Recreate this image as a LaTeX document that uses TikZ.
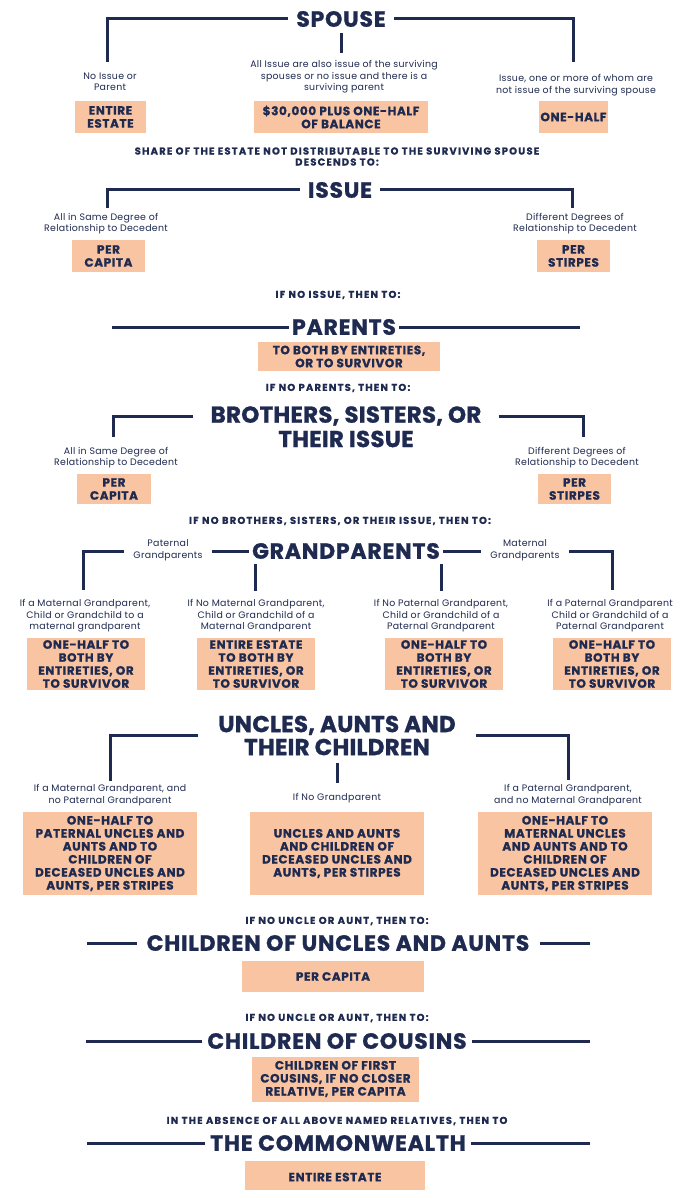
\documentclass[tikz,border=0pt]{standalone}
\usepackage{fontspec}
\setmainfont{Poppins}
\newfontfamily\headfont{Poppins}[LetterSpace=3.5, BoldFeatures={FakeBold=1}]
\newfontfamily\bigfont{Poppins}[LetterSpace=1, BoldFeatures={FakeBold=1}]
\newfontfamily\boxfont{Poppins}[LetterSpace=5, BoldFeatures={FakeBold=1}]
\newfontfamily\condfont{Poppins}[LetterSpace=12, BoldFeatures={FakeBold=0.6}]
\newfontfamily\notefont{Poppins}[LetterSpace=3]
\definecolor{navy}{HTML}{1F2A50}
\definecolor{peach}{HTML}{F9C4A2}
\begin{document}
\begin{tikzpicture}[x=1pt,y=-1pt,
 head/.style={font=\headfont\bfseries\fontsize{22}{23}\selectfont, text=navy, inner ysep=0pt, inner xsep=8pt, align=center},
 bighead/.style={font=\bigfont\bfseries\fontsize{23}{23}\selectfont, text=navy, inner ysep=0pt, inner xsep=17pt, align=center},
 box/.style={fill=peach, text=navy, font=\boxfont\bfseries\fontsize{12}{13}\selectfont, align=center, inner sep=0pt},
 note/.style={text=navy, font=\notefont\fontsize{9.4}{11.5}\selectfont, align=center, inner sep=0pt},
 cond/.style={text=navy, font=\condfont\bfseries\fontsize{10}{11}\selectfont, align=center, inner sep=0pt},
 conn/.style={draw=navy, line width=3pt},
]
\useasboundingbox (0,0) rectangle (678,1190);
\fill[white] (0,0) rectangle (678,1190);

% ---------- SPOUSE ----------
\node[head] (spouse) at (341,19) {SPOUSE};
\coordinate (sp-l) at (107,62);
\coordinate (sp-r) at (573,62);
\coordinate (sp-ct) at (341,33);
\coordinate (sp-cb) at (341,53);
\draw[conn] (spouse.west) -| (sp-l);
\draw[conn] (spouse.east) -| (sp-r);
\draw[conn] (sp-ct) -- (sp-cb);
\node[note] (sp-n1) at (110,82) {No Issue or\\Parent};
\node[note] (sp-n2) at (344,77) {All Issue are also issue of the surviving\\spouses or no issue and there is a\\surviving parent};
\node[note] (sp-n3) at (576,85) {Issue, one or more of whom are\\not issue of the surviving spouse};
\node[box, minimum width=71, minimum height=32] (sp-b1) at (110.5,117) {ENTIRE\\ESTATE};
\node[box, minimum width=174, minimum height=32] (sp-b2) at (341,117) {\$30,000 PLUS ONE-HALF\\OF BALANCE};
\node[box, minimum width=69, minimum height=32] (sp-b3) at (573.5,117) {ONE-HALF};
\node[cond] (sp-c) at (337,156.5) {SHARE OF THE ESTATE NOT DISTRIBUTABLE TO THE SURVIVING SPOUSE\\DESCENDS TO:};

% ---------- ISSUE ----------
\node[head] (issue) at (340,190) {ISSUE};
\coordinate (is-l) at (107,208);
\coordinate (is-r) at (572,208);
\draw[conn] (issue.west) -| (is-l);
\draw[conn] (issue.east) -| (is-r);
\node[note] (is-n1) at (106,223.5) {All in Same Degree of\\Relationship to Decedent};
\node[note] (is-n2) at (575,223.5) {Different Degrees of\\Relationship to Decedent};
\node[box, minimum width=73, minimum height=32] (is-b1) at (108.5,256) {PER\\CAPITA};
\node[box, minimum width=73, minimum height=32] (is-b2) at (573.5,256) {PER\\STIRPES};
\node[cond] (is-c) at (338,295) {IF NO ISSUE, THEN TO:};

% ---------- PARENTS ----------
\node[head, inner xsep=3pt] (parents) at (344,327) {PARENTS};
\coordinate (pa-l) at (112,327);
\coordinate (pa-r) at (580,327);
\draw[conn] (parents.west) -- (parents.west -| pa-l);
\draw[conn] (parents.east) -- (parents.east -| pa-r);
\node[box, minimum width=182, minimum height=29] (pa-b) at (349,356.5) {TO BOTH BY ENTIRETIES,\\OR TO SURVIVOR};
\node[cond] (pa-c) at (338,388) {IF NO PARENTS, THEN TO:};

% ---------- BROTHERS ----------
\node[bighead] (bro) at (346,416) {BROTHERS, SISTERS, OR};
\node[bighead] (bro2) at (346,439) {THEIR ISSUE};
\coordinate (br-l) at (113,437);
\coordinate (br-r) at (583,437);
\draw[conn] (bro.west) -| (br-l);
\draw[conn] (bro.east) -| (br-r);
\node[note] (br-n1) at (116,457.5) {All in Same Degree of\\Relationship to Decedent};
\node[note] (br-n2) at (577,457.5) {Different Degrees of\\Relationship to Decedent};
\node[box, minimum width=74, minimum height=30] (br-b1) at (114,489) {PER\\CAPITA};
\node[box, minimum width=73, minimum height=30] (br-b2) at (574.5,489) {PER\\STIRPES};
\node[cond] (br-c) at (340,521) {IF NO BROTHERS, SISTERS, OR THEIR ISSUE, THEN TO:};

% ---------- GRANDPARENTS ----------
\node[head, inner xsep=3pt] (gp) at (346,551) {GRANDPARENTS};
\node[note, inner xsep=9pt] (gp-pat) at (168,550) {Paternal\\Grandparents};
\node[note, inner xsep=9pt] (gp-mat) at (525,550) {Maternal\\Grandparents};
\coordinate (gp-l) at (83,590);
\coordinate (gp-r) at (612,590);
\coordinate (gp-v1a) at (255,564);
\coordinate (gp-v1b) at (255,591);
\coordinate (gp-v2a) at (441,564);
\coordinate (gp-v2b) at (441,591);
\draw[conn] (gp.west) -- (gp.west -| gp-pat.east);
\draw[conn] (gp.west -| gp-pat.west) -| (gp-l);
\draw[conn] (gp.east) -- (gp.east -| gp-mat.west);
\draw[conn] (gp.east -| gp-mat.east) -| (gp-r);
\draw[conn] (gp-v1a) -- (gp-v1b);
\draw[conn] (gp-v2a) -- (gp-v2b);
\node[note] (gp-n1) at (85,616) {If a Maternal Grandparent,\\Child or Grandchild to a\\maternal grandparent};
\node[note] (gp-n2) at (256,616) {If No Maternal Grandparent,\\Child or Grandchild of a\\Maternal Grandparent};
\node[note] (gp-n3) at (441,616) {If No Paternal Grandparent,\\Child or Grandchild of a\\Paternal Grandparent};
\node[note] (gp-n4) at (610,616) {If a Paternal Grandparent\\Child or Grandchild of a\\Paternal Grandparent};
\node[box, minimum width=118, minimum height=52] (gp-b1) at (86,664) {ONE-HALF TO\\BOTH BY\\ENTIRETIES, OR\\TO SURVIVOR};
\node[box, minimum width=118, minimum height=52] (gp-b2) at (256,664) {ENTIRE ESTATE\\TO BOTH BY\\ENTIRETIES, OR\\TO SURVIVOR};
\node[box, minimum width=118, minimum height=52] (gp-b3) at (444,664) {ONE-HALF TO\\BOTH BY\\ENTIRETIES, OR\\TO SURVIVOR};
\node[box, minimum width=118, minimum height=52] (gp-b4) at (612,664) {ONE-HALF TO\\BOTH BY\\ENTIRETIES, OR\\TO SURVIVOR};

% ---------- UNCLES ----------
\node[bighead, inner xsep=20pt] (unc) at (337,735.5) {UNCLES, AUNTS AND\\THEIR CHILDREN};
\coordinate (un-l) at (110,781);
\coordinate (un-r) at (568,780);
\coordinate (un-ct) at (337,763);
\coordinate (un-cb) at (337,783);
\draw[conn] (unc.west) -| (un-l);
\draw[conn] (unc.east) -| (un-r);
\draw[conn] (un-ct) -- (un-cb);
\node[note] (un-n1) at (110,795) {If a Maternal Grandparent, and\\no Paternal Grandparent};
\node[note] (un-n2) at (337,798) {If No Grandparent};
\node[note] (un-n3) at (568,795) {If a Paternal Grandparent,\\and no Maternal Grandparent};
\node[box, minimum width=174, minimum height=83] (un-b1) at (110,853.5) {ONE-HALF TO\\PATERNAL UNCLES AND\\AUNTS AND TO\\CHILDREN OF\\DECEASED UNCLES AND\\AUNTS, PER STRIPES};
\node[box, minimum width=174, minimum height=83] (un-b2) at (337,853.5) {UNCLES AND AUNTS\\AND CHILDREN OF\\DECEASED UNCLES AND\\AUNTS, PER STIRPES};
\node[box, minimum width=174, minimum height=83] (un-b3) at (565,853.5) {ONE-HALF TO\\MATERNAL UNCLES\\AND AUNTS AND TO\\CHILDREN OF\\DECEASED UNCLES AND\\AUNTS, PER STRIPES};

% ---------- CHILDREN OF UNCLES AND AUNTS ----------
\node[cond] (cu-c) at (337,921) {IF NO UNCLE OR AUNT, THEN TO:};
\node[head, inner xsep=10pt] (cu) at (338,943) {CHILDREN OF UNCLES AND AUNTS};
\coordinate (cu-l) at (87,943);
\coordinate (cu-r) at (590,943);
\draw[conn] (cu.west) -- (cu.west -| cu-l);
\draw[conn] (cu.east) -- (cu.east -| cu-r);
\node[box, minimum width=182, minimum height=31] (cu-b) at (333,976.5) {PER CAPITA};

% ---------- CHILDREN OF COUSINS ----------
\node[cond] (cc-c) at (337,1018) {IF NO UNCLE OR AUNT, THEN TO:};
\node[head, inner xsep=5pt] (cc) at (337,1041) {CHILDREN OF COUSINS};
\coordinate (cc-l) at (86,1041);
\coordinate (cc-r) at (590,1041);
\draw[conn] (cc.west) -- (cc.west -| cc-l);
\draw[conn] (cc.east) -- (cc.east -| cc-r);
\node[box, minimum width=167, minimum height=45] (cc-b) at (335.5,1079) {CHILDREN OF FIRST\\COUSINS, IF NO CLOSER\\RELATIVE, PER CAPITA};

% ---------- COMMONWEALTH ----------
\node[cond] (cw-c) at (337,1121) {IN THE ABSENCE OF ALL ABOVE NAMED RELATIVES, THEN TO};
\node[head, inner xsep=5pt] (cw) at (338,1143) {THE COMMONWEALTH};
\coordinate (cw-l) at (87,1143);
\coordinate (cw-r) at (590,1143);
\draw[conn] (cw.west) -- (cw.west -| cw-l);
\draw[conn] (cw.east) -- (cw.east -| cw-r);
\node[box, minimum width=180, minimum height=32] (cw-b) at (335,1177) {ENTIRE ESTATE};
\end{tikzpicture}
\end{document}
